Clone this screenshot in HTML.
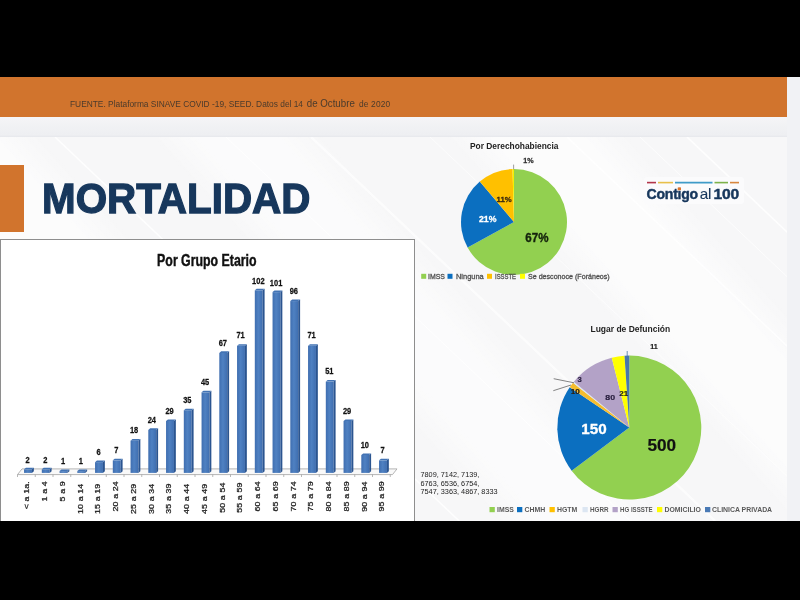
<!DOCTYPE html>
<html lang="es">
<head>
<meta charset="utf-8">
<title>Mortalidad</title>
<style>
html,body{margin:0;padding:0;}
body{width:800px;height:600px;position:relative;overflow:hidden;background:#000;font-family:"Liberation Sans",sans-serif;}
.abs{position:absolute;}
#slide{left:0;top:77px;width:800px;height:443.6px;background:#f7f7f8;overflow:hidden;}
#tex{left:0;top:60.2px;width:787.3px;height:384px;background:
 linear-gradient(48deg, rgba(255,255,255,0) 0 9.2%, rgba(255,255,255,.95) 9.3% 9.6%, rgba(255,255,255,0) 9.7% 100%),
 linear-gradient(48deg, rgba(255,255,255,0) 0 18%, rgba(255,255,255,.6) 22% 30%, rgba(255,255,255,0) 34% 44%, rgba(255,255,255,.55) 48% 55%, rgba(255,255,255,0) 59% 70%, rgba(255,255,255,.6) 74% 82%, rgba(255,255,255,0) 86% 100%),
 #f7f7f8;}
#hdr{left:0;top:0;width:787.3px;height:40.3px;background:#d1742d;}
#band{left:0;top:40.2px;width:800px;height:19.9px;background:linear-gradient(#f5f5f7,#f1f2f4 40%,#eeeff2 90%,#e6e8ec);}
#rcol{left:787.3px;top:0;width:13px;height:444px;background:#f1f2f5;}
#oblock{left:0;top:87.8px;width:23.8px;height:66.8px;background:#d1742d;}
#src{left:69.6px;top:20.0px;font-size:9.3px;line-height:12px;color:#493a2c;white-space:nowrap;transform-origin:0 50%;transform:scaleX(0.899);}
#title{left:41.5px;top:98.6px;font-size:42.6px;line-height:44px;font-weight:bold;color:#17375c;-webkit-text-stroke:1.3px #17375c;white-space:nowrap;transform-origin:0 50%;transform:scaleX(0.948);letter-spacing:0px;}
#chartbox{left:-0.3px;top:161.7px;width:415.2px;height:300px;background:#fff;border:1.35px solid #8e8e8e;box-sizing:border-box;}
svg{position:absolute;left:0;top:0;}
.vl{font:bold 8.7px "Liberation Sans",sans-serif;fill:#111;stroke:#111;stroke-width:0.25px;}
.xl{font:8.6px "Liberation Sans",sans-serif;fill:#222;stroke:#222;stroke-width:0.3px;letter-spacing:0.1px;}
.t{font-family:"Liberation Sans",sans-serif;}
</style>
</head>
<body>
<div id="slide" class="abs">
  <div id="tex" class="abs"><svg width="787" height="384" viewBox="0 0 787 384" style="position:absolute;left:0;top:0"><line x1="55" y1="0" x2="459.2" y2="384" stroke="#fff" stroke-width="1.4" opacity="0.95"/><line x1="226" y1="0" x2="630.2" y2="384" stroke="#fff" stroke-width="1.0" opacity="0.8"/><line x1="311" y1="0" x2="715.2" y2="384" stroke="#fff" stroke-width="2.2" opacity="0.7"/><line x1="567" y1="0" x2="971.2" y2="384" stroke="#fff" stroke-width="1.4" opacity="0.9"/><line x1="640" y1="0" x2="1044.2" y2="384" stroke="#fff" stroke-width="1.0" opacity="0.7"/><line x1="687" y1="0" x2="1091.2" y2="384" stroke="#fff" stroke-width="1.6" opacity="0.9"/><line x1="-120" y1="0" x2="284.2" y2="384" stroke="#fff" stroke-width="1.2" opacity="0.8"/><line x1="-260" y1="0" x2="144.2" y2="384" stroke="#fff" stroke-width="1.8" opacity="0.7"/><line x1="430" y1="0" x2="834.2" y2="384" stroke="#fff" stroke-width="1.0" opacity="0.6"/></svg></div>
  <div id="band" class="abs"></div>
  <div id="rcol" class="abs"></div>
  <div id="hdr" class="abs"></div>
  <div id="src" class="abs">FUENTE. Plataforma SINAVE COVID -19, SEED. Datos del 14 <span style="font-size:10.8px;margin:0 2px 0 1.6px">de Octubre</span> <span style="letter-spacing:0.2px">de 2020</span></div>
  <div id="oblock" class="abs"></div>
  <div id="title" class="abs">MORTALIDAD</div>
  <div id="chartbox" class="abs"></div>
</div>
<svg width="800" height="600" viewBox="0 0 800 600">
<defs>
<linearGradient id="bf" x1="0" x2="1" y1="0" y2="0">
<stop offset="0" stop-color="#3f6eb0"/><stop offset="0.45" stop-color="#4f81c2"/><stop offset="1" stop-color="#3f6eb0"/>
</linearGradient>
</defs>
<text transform="translate(157.1,266.2) scale(0.744,1)" class="t" font-size="16.6" font-weight="bold" fill="#111" stroke="#111" stroke-width="0.45">Por Grupo Etario</text>
<polygon points="17.5,474.6 22,468.9 397,468.9 392.5,474.6" fill="#f9f9f9" stroke="#a2a2a2" stroke-width="0.8"/>
<line x1="17.50" y1="474.6" x2="17.50" y2="477" stroke="#9a9a9a" stroke-width="0.7"/>
<line x1="35.25" y1="474.6" x2="35.25" y2="477" stroke="#9a9a9a" stroke-width="0.7"/>
<line x1="53.00" y1="474.6" x2="53.00" y2="477" stroke="#9a9a9a" stroke-width="0.7"/>
<line x1="70.75" y1="474.6" x2="70.75" y2="477" stroke="#9a9a9a" stroke-width="0.7"/>
<line x1="88.50" y1="474.6" x2="88.50" y2="477" stroke="#9a9a9a" stroke-width="0.7"/>
<line x1="106.25" y1="474.6" x2="106.25" y2="477" stroke="#9a9a9a" stroke-width="0.7"/>
<line x1="124.00" y1="474.6" x2="124.00" y2="477" stroke="#9a9a9a" stroke-width="0.7"/>
<line x1="141.75" y1="474.6" x2="141.75" y2="477" stroke="#9a9a9a" stroke-width="0.7"/>
<line x1="159.50" y1="474.6" x2="159.50" y2="477" stroke="#9a9a9a" stroke-width="0.7"/>
<line x1="177.25" y1="474.6" x2="177.25" y2="477" stroke="#9a9a9a" stroke-width="0.7"/>
<line x1="195.00" y1="474.6" x2="195.00" y2="477" stroke="#9a9a9a" stroke-width="0.7"/>
<line x1="212.75" y1="474.6" x2="212.75" y2="477" stroke="#9a9a9a" stroke-width="0.7"/>
<line x1="230.50" y1="474.6" x2="230.50" y2="477" stroke="#9a9a9a" stroke-width="0.7"/>
<line x1="248.25" y1="474.6" x2="248.25" y2="477" stroke="#9a9a9a" stroke-width="0.7"/>
<line x1="266.00" y1="474.6" x2="266.00" y2="477" stroke="#9a9a9a" stroke-width="0.7"/>
<line x1="283.75" y1="474.6" x2="283.75" y2="477" stroke="#9a9a9a" stroke-width="0.7"/>
<line x1="301.50" y1="474.6" x2="301.50" y2="477" stroke="#9a9a9a" stroke-width="0.7"/>
<line x1="319.25" y1="474.6" x2="319.25" y2="477" stroke="#9a9a9a" stroke-width="0.7"/>
<line x1="337.00" y1="474.6" x2="337.00" y2="477" stroke="#9a9a9a" stroke-width="0.7"/>
<line x1="354.75" y1="474.6" x2="354.75" y2="477" stroke="#9a9a9a" stroke-width="0.7"/>
<line x1="372.50" y1="474.6" x2="372.50" y2="477" stroke="#9a9a9a" stroke-width="0.7"/>
<line x1="390.25" y1="474.6" x2="390.25" y2="477" stroke="#9a9a9a" stroke-width="0.7"/>
<rect x="24.05" y="469.32" width="7.9" height="3.58" fill="url(#bf)"/>
<polygon points="31.95,469.32 33.85,467.72 33.85,471.30 31.95,472.90" fill="#2b5590"/>
<polygon points="24.05,469.32 25.95,467.72 33.85,467.72 31.95,469.32" fill="#4273b4"/>
<rect x="41.80" y="469.32" width="7.9" height="3.58" fill="url(#bf)"/>
<polygon points="49.70,469.32 51.60,467.72 51.60,471.30 49.70,472.90" fill="#2b5590"/>
<polygon points="41.80,469.32 43.70,467.72 51.60,467.72 49.70,469.32" fill="#4273b4"/>
<rect x="59.55" y="471.11" width="7.9" height="1.79" fill="url(#bf)"/>
<polygon points="67.45,471.11 69.35,469.51 69.35,471.30 67.45,472.90" fill="#2b5590"/>
<polygon points="59.55,471.11 61.45,469.51 69.35,469.51 67.45,471.11" fill="#4273b4"/>
<rect x="77.30" y="471.11" width="7.9" height="1.79" fill="url(#bf)"/>
<polygon points="85.20,471.11 87.10,469.51 87.10,471.30 85.20,472.90" fill="#2b5590"/>
<polygon points="77.30,471.11 79.20,469.51 87.10,469.51 85.20,471.11" fill="#4273b4"/>
<rect x="95.05" y="462.16" width="7.9" height="10.74" fill="url(#bf)"/>
<polygon points="102.95,462.16 104.85,460.56 104.85,471.30 102.95,472.90" fill="#2b5590"/>
<polygon points="95.05,462.16 96.95,460.56 104.85,460.56 102.95,462.16" fill="#4273b4"/>
<rect x="112.80" y="460.37" width="7.9" height="12.53" fill="url(#bf)"/>
<polygon points="120.70,460.37 122.60,458.77 122.60,471.30 120.70,472.90" fill="#2b5590"/>
<polygon points="112.80,460.37 114.70,458.77 122.60,458.77 120.70,460.37" fill="#4273b4"/>
<rect x="130.55" y="440.68" width="7.9" height="32.22" fill="url(#bf)"/>
<polygon points="138.45,440.68 140.35,439.08 140.35,471.30 138.45,472.90" fill="#2b5590"/>
<polygon points="130.55,440.68 132.45,439.08 140.35,439.08 138.45,440.68" fill="#4273b4"/>
<rect x="148.30" y="429.94" width="7.9" height="42.96" fill="url(#bf)"/>
<polygon points="156.20,429.94 158.10,428.34 158.10,471.30 156.20,472.90" fill="#2b5590"/>
<polygon points="148.30,429.94 150.20,428.34 158.10,428.34 156.20,429.94" fill="#4273b4"/>
<rect x="166.05" y="420.99" width="7.9" height="51.91" fill="url(#bf)"/>
<polygon points="173.95,420.99 175.85,419.39 175.85,471.30 173.95,472.90" fill="#2b5590"/>
<polygon points="166.05,420.99 167.95,419.39 175.85,419.39 173.95,420.99" fill="#4273b4"/>
<rect x="183.80" y="410.25" width="7.9" height="62.65" fill="url(#bf)"/>
<polygon points="191.70,410.25 193.60,408.65 193.60,471.30 191.70,472.90" fill="#2b5590"/>
<polygon points="183.80,410.25 185.70,408.65 193.60,408.65 191.70,410.25" fill="#4273b4"/>
<rect x="201.55" y="392.35" width="7.9" height="80.55" fill="url(#bf)"/>
<polygon points="209.45,392.35 211.35,390.75 211.35,471.30 209.45,472.90" fill="#2b5590"/>
<polygon points="201.55,392.35 203.45,390.75 211.35,390.75 209.45,392.35" fill="#4273b4"/>
<rect x="219.30" y="352.97" width="7.9" height="119.93" fill="url(#bf)"/>
<polygon points="227.20,352.97 229.10,351.37 229.10,471.30 227.20,472.90" fill="#2b5590"/>
<polygon points="219.30,352.97 221.20,351.37 229.10,351.37 227.20,352.97" fill="#4273b4"/>
<rect x="237.05" y="345.81" width="7.9" height="127.09" fill="url(#bf)"/>
<polygon points="244.95,345.81 246.85,344.21 246.85,471.30 244.95,472.90" fill="#2b5590"/>
<polygon points="237.05,345.81 238.95,344.21 246.85,344.21 244.95,345.81" fill="#4273b4"/>
<rect x="254.80" y="290.32" width="7.9" height="182.58" fill="url(#bf)"/>
<polygon points="262.70,290.32 264.60,288.72 264.60,471.30 262.70,472.90" fill="#2b5590"/>
<polygon points="254.80,290.32 256.70,288.72 264.60,288.72 262.70,290.32" fill="#4273b4"/>
<rect x="272.55" y="292.11" width="7.9" height="180.79" fill="url(#bf)"/>
<polygon points="280.45,292.11 282.35,290.51 282.35,471.30 280.45,472.90" fill="#2b5590"/>
<polygon points="272.55,292.11 274.45,290.51 282.35,290.51 280.45,292.11" fill="#4273b4"/>
<rect x="290.30" y="301.06" width="7.9" height="171.84" fill="url(#bf)"/>
<polygon points="298.20,301.06 300.10,299.46 300.10,471.30 298.20,472.90" fill="#2b5590"/>
<polygon points="290.30,301.06 292.20,299.46 300.10,299.46 298.20,301.06" fill="#4273b4"/>
<rect x="308.05" y="345.81" width="7.9" height="127.09" fill="url(#bf)"/>
<polygon points="315.95,345.81 317.85,344.21 317.85,471.30 315.95,472.90" fill="#2b5590"/>
<polygon points="308.05,345.81 309.95,344.21 317.85,344.21 315.95,345.81" fill="#4273b4"/>
<rect x="325.80" y="381.61" width="7.9" height="91.29" fill="url(#bf)"/>
<polygon points="333.70,381.61 335.60,380.01 335.60,471.30 333.70,472.90" fill="#2b5590"/>
<polygon points="325.80,381.61 327.70,380.01 335.60,380.01 333.70,381.61" fill="#4273b4"/>
<rect x="343.55" y="420.99" width="7.9" height="51.91" fill="url(#bf)"/>
<polygon points="351.45,420.99 353.35,419.39 353.35,471.30 351.45,472.90" fill="#2b5590"/>
<polygon points="343.55,420.99 345.45,419.39 353.35,419.39 351.45,420.99" fill="#4273b4"/>
<rect x="361.30" y="455.00" width="7.9" height="17.90" fill="url(#bf)"/>
<polygon points="369.20,455.00 371.10,453.40 371.10,471.30 369.20,472.90" fill="#2b5590"/>
<polygon points="361.30,455.00 363.20,453.40 371.10,453.40 369.20,455.00" fill="#4273b4"/>
<rect x="379.05" y="460.37" width="7.9" height="12.53" fill="url(#bf)"/>
<polygon points="386.95,460.37 388.85,458.77 388.85,471.30 386.95,472.90" fill="#2b5590"/>
<polygon points="379.05,460.37 380.95,458.77 388.85,458.77 386.95,460.37" fill="#4273b4"/>
<text transform="translate(27.55,462.52) scale(0.86,1)" text-anchor="middle" class="vl">2</text>
<text transform="translate(45.30,462.52) scale(0.86,1)" text-anchor="middle" class="vl">2</text>
<text transform="translate(63.05,464.31) scale(0.86,1)" text-anchor="middle" class="vl">1</text>
<text transform="translate(80.80,464.31) scale(0.86,1)" text-anchor="middle" class="vl">1</text>
<text transform="translate(98.55,454.76) scale(0.86,1)" text-anchor="middle" class="vl">6</text>
<text transform="translate(116.30,452.97) scale(0.86,1)" text-anchor="middle" class="vl">7</text>
<text transform="translate(134.05,433.28) scale(0.86,1)" text-anchor="middle" class="vl">18</text>
<text transform="translate(151.80,422.54) scale(0.86,1)" text-anchor="middle" class="vl">24</text>
<text transform="translate(169.55,413.59) scale(0.86,1)" text-anchor="middle" class="vl">29</text>
<text transform="translate(187.30,402.85) scale(0.86,1)" text-anchor="middle" class="vl">35</text>
<text transform="translate(205.05,384.95) scale(0.86,1)" text-anchor="middle" class="vl">45</text>
<text transform="translate(222.80,345.57) scale(0.86,1)" text-anchor="middle" class="vl">67</text>
<text transform="translate(240.55,338.41) scale(0.86,1)" text-anchor="middle" class="vl">71</text>
<text transform="translate(258.30,284.22) scale(0.86,1)" text-anchor="middle" class="vl">102</text>
<text transform="translate(276.05,285.91) scale(0.86,1)" text-anchor="middle" class="vl">101</text>
<text transform="translate(293.80,293.96) scale(0.86,1)" text-anchor="middle" class="vl">96</text>
<text transform="translate(311.55,338.41) scale(0.86,1)" text-anchor="middle" class="vl">71</text>
<text transform="translate(329.30,374.21) scale(0.86,1)" text-anchor="middle" class="vl">51</text>
<text transform="translate(347.05,413.59) scale(0.86,1)" text-anchor="middle" class="vl">29</text>
<text transform="translate(364.80,447.60) scale(0.86,1)" text-anchor="middle" class="vl">10</text>
<text transform="translate(382.55,452.97) scale(0.86,1)" text-anchor="middle" class="vl">7</text>
<text transform="translate(29.25,481.20) rotate(-90) scale(1.03,0.84)" text-anchor="end" class="xl">&lt; a 1a.</text>
<text transform="translate(47.00,481.20) rotate(-90) scale(1.03,0.84)" text-anchor="end" class="xl">1 a 4</text>
<text transform="translate(64.75,481.20) rotate(-90) scale(1.03,0.84)" text-anchor="end" class="xl">5 a 9</text>
<text transform="translate(82.50,483.70) rotate(-90) scale(1.03,0.84)" text-anchor="end" class="xl">10 a 14</text>
<text transform="translate(100.25,483.70) rotate(-90) scale(1.03,0.84)" text-anchor="end" class="xl">15 a 19</text>
<text transform="translate(118.00,481.20) rotate(-90) scale(1.03,0.84)" text-anchor="end" class="xl">20 a 24</text>
<text transform="translate(135.75,483.70) rotate(-90) scale(1.03,0.84)" text-anchor="end" class="xl">25 a 29</text>
<text transform="translate(153.50,483.70) rotate(-90) scale(1.03,0.84)" text-anchor="end" class="xl">30 a 34</text>
<text transform="translate(171.25,483.40) rotate(-90) scale(1.03,0.84)" text-anchor="end" class="xl">35 a 39</text>
<text transform="translate(189.00,483.70) rotate(-90) scale(1.03,0.84)" text-anchor="end" class="xl">40 a 44</text>
<text transform="translate(206.75,483.70) rotate(-90) scale(1.03,0.84)" text-anchor="end" class="xl">45 a 49</text>
<text transform="translate(224.50,482.50) rotate(-90) scale(1.03,0.84)" text-anchor="end" class="xl">50 a 54</text>
<text transform="translate(242.25,482.50) rotate(-90) scale(1.03,0.84)" text-anchor="end" class="xl">55 a 59</text>
<text transform="translate(260.00,481.20) rotate(-90) scale(1.03,0.84)" text-anchor="end" class="xl">60 a 64</text>
<text transform="translate(277.75,481.20) rotate(-90) scale(1.03,0.84)" text-anchor="end" class="xl">65 a 69</text>
<text transform="translate(295.50,481.20) rotate(-90) scale(1.03,0.84)" text-anchor="end" class="xl">70 a 74</text>
<text transform="translate(313.25,481.20) rotate(-90) scale(1.03,0.84)" text-anchor="end" class="xl">75 a 79</text>
<text transform="translate(331.00,481.20) rotate(-90) scale(1.03,0.84)" text-anchor="end" class="xl">80 a 84</text>
<text transform="translate(348.75,481.20) rotate(-90) scale(1.03,0.84)" text-anchor="end" class="xl">85 a 89</text>
<text transform="translate(366.50,481.50) rotate(-90) scale(1.03,0.84)" text-anchor="end" class="xl">90 a 94</text>
<text transform="translate(384.25,481.20) rotate(-90) scale(1.03,0.84)" text-anchor="end" class="xl">95 a 99</text>

<!-- pie 1 -->
<text transform="translate(470,149.1) scale(0.875,1)" class="t" font-size="9.6" font-weight="bold" fill="#222">Por Derechohabiencia</text>
<path d="M514,222 L514.00,169.00 A53,53 0 1 1 467.60,247.61 Z" fill="#92d050"/>
<path d="M514,222 L467.60,247.61 A53,53 0 0 1 479.79,181.52 Z" fill="#0b6fc0"/>
<path d="M514,222 L479.79,181.52 A53,53 0 0 1 512.52,169.02 Z" fill="#ffc000"/>
<path d="M514,222 L512.52,169.02 A53,53 0 0 1 514.00,169.00 Z" fill="#f4f000"/>
<line x1="513.6" y1="169.3" x2="513.6" y2="164.6" stroke="#777" stroke-width="0.7"/>
<g class="t" font-weight="bold">
<text transform="translate(523.2,162.8) scale(1.05,1)" font-size="6.8" fill="#333" stroke="#333" stroke-width="0.25">1%</text>
<text transform="translate(496.6,201.8) scale(0.97,1)" font-size="8" fill="#3a2a10" stroke="#3a2a10" stroke-width="0.3">11%</text>
<text transform="translate(479,221.7) scale(0.94,1)" font-size="9.3" fill="#fff" stroke="#fff" stroke-width="0.3">21%</text>
<text transform="translate(525.3,242) scale(0.92,1)" font-size="12.6" fill="#14220c" stroke="#14220c" stroke-width="0.35">67%</text>
</g>
<g class="t" font-size="6.9" fill="#505050" stroke="#505050" stroke-width="0.28">
<rect x="421.2" y="273.8" width="5" height="5" fill="#92d050" stroke="none"/><text x="428" y="278.8">IMSS</text>
<rect x="447.5" y="273.8" width="5" height="5" fill="#0b6fc0" stroke="none"/><text transform="translate(456,278.8) scale(1.08,1)">Ninguna</text>
<rect x="487" y="273.8" width="5" height="5" fill="#ffc000" stroke="none"/><text transform="translate(495,278.8) scale(0.86,1)">ISSSTE</text>
<rect x="520" y="273.8" width="5" height="5" fill="#ffff00" stroke="none"/><text transform="translate(528,278.8) scale(1.03,1)">Se desconoce (Foráneos)</text>
</g>

<!-- pie 2 -->
<text transform="translate(590.5,332) scale(0.885,1)" class="t" font-size="9.6" font-weight="bold" fill="#222">Lugar de Defunción</text>
<path d="M629.3,427.6 L629.30,355.60 A72,72 0 1 1 571.65,470.73 Z" fill="#92d050"/>
<path d="M629.3,427.6 L571.65,470.73 A72,72 0 0 1 569.75,387.13 Z" fill="#0b6fc0"/>
<path d="M629.3,427.6 L569.75,387.13 A72,72 0 0 1 573.03,382.68 Z" fill="#f5bd2e"/>
<path d="M629.3,427.6 L573.03,382.68 A72,72 0 0 1 573.82,381.71 Z" fill="#dce6f2"/>
<path d="M629.3,427.6 L573.82,381.71 A72,72 0 0 1 611.76,357.77 Z" fill="#b3a2c7"/>
<path d="M629.3,427.6 L611.76,357.77 A72,72 0 0 1 624.53,355.76 Z" fill="#ffff00"/>
<path d="M629.3,427.6 L624.53,355.76 A72,72 0 0 1 629.30,355.60 Z" fill="#4878ac"/>
<line x1="553.7" y1="378.7" x2="574" y2="382.8" stroke="#333" stroke-width="0.6"/>
<line x1="553.3" y1="390.7" x2="571" y2="385" stroke="#333" stroke-width="0.6"/>
<line x1="627.2" y1="356" x2="627.2" y2="351" stroke="#4a76a5" stroke-width="0.8"/>
<g class="t" font-weight="bold">
<text x="650.2" y="349" font-size="7.2" fill="#222" stroke="#222" stroke-width="0.2">11</text>
<text x="577.6" y="382.3" font-size="7.6" fill="#2a2040" stroke="#2a2040" stroke-width="0.2">3</text>
<text transform="translate(570.8,394) scale(1.08,1)" font-size="7.6" fill="#2a2010" stroke="#2a2010" stroke-width="0.2">10</text>
<text transform="translate(605.3,400.3) scale(1.1,1)" font-size="8" fill="#2a2040" stroke="#2a2040" stroke-width="0.2">80</text>
<text transform="translate(619.2,395.5) scale(1.06,1)" font-size="7.6" fill="#222" stroke="#222" stroke-width="0.2">21</text>
<text transform="translate(581.2,434.2) scale(1.03,1)" font-size="14.8" fill="#fff" stroke="#fff" stroke-width="0.3">150</text>
<text x="647.4" y="451.4" font-size="17.2" fill="#111" stroke="#111" stroke-width="0.2">500</text>
</g>
<g class="t" font-size="7.3" fill="#222">
<text x="420.5" y="477">7809, 7142, 7139,</text>
<text x="420.5" y="485.6">6763, 6536, 6754,</text>
<text x="420.5" y="494.2">7547, 3363, 4867, 8333</text>
</g>
<g class="t" font-size="6.9" font-weight="bold" fill="#595959">
<rect x="489.5" y="507" width="5.3" height="5.2" fill="#92d050"/><text x="497" y="512.4">IMSS</text>
<rect x="517" y="507" width="5.3" height="5.2" fill="#0b6fc0"/><text x="524.5" y="512.4">CHMH</text>
<rect x="549.5" y="507" width="5.3" height="5.2" fill="#ffc000"/><text x="557" y="512.4">HGTM</text>
<rect x="582.5" y="507" width="5.3" height="5.2" fill="#dce6f2"/><text transform="translate(590,512.4) scale(0.92,1)">HGRR</text>
<rect x="612.5" y="507" width="5.3" height="5.2" fill="#b3a2c7"/><text transform="translate(620,512.4) scale(0.89,1)">HG ISSSTE</text>
<rect x="657" y="507" width="5.3" height="5.2" fill="#ffff00"/><text x="664.5" y="512.4">DOMICILIO</text>
<rect x="705" y="507" width="5.3" height="5.2" fill="#4a7ab5"/><text x="712" y="512.4">CLINICA PRIVADA</text>
</g>

<!-- logo -->
<rect x="644" y="177" width="100" height="27" rx="3" fill="#fbfbfc"/>
<g stroke-width="1.6">
<line x1="647" y1="182.6" x2="656" y2="182.6" stroke="#b3364a"/>
<line x1="658" y1="182.6" x2="673" y2="182.6" stroke="#e8c04a"/>
<line x1="675" y1="182.6" x2="712.5" y2="182.6" stroke="#3f9bc8"/>
<line x1="714.5" y1="182.6" x2="728" y2="182.6" stroke="#7db24a"/>
<line x1="730" y1="182.6" x2="739" y2="182.6" stroke="#d8873e"/>
</g>
<g class="t" fill="#17375c" stroke="#17375c">
<text transform="translate(646.6,199.4) scale(0.97,1)" font-size="14.5" font-weight="bold" stroke-width="0.45" letter-spacing="-0.25">Contigo</text>
<text transform="translate(699.8,199.4) scale(1.08,1)" font-size="14.2" stroke-width="0.1" letter-spacing="-0.2">al</text>
<text transform="translate(713.4,199.4) scale(1.04,1)" font-size="15" font-weight="bold" stroke-width="0.45" letter-spacing="-0.1">100</text>
</g>
<rect x="677.7" y="187.4" width="3.3" height="2.8" rx="0.4" fill="#e2772a"/>
</svg>
</body>
</html>
